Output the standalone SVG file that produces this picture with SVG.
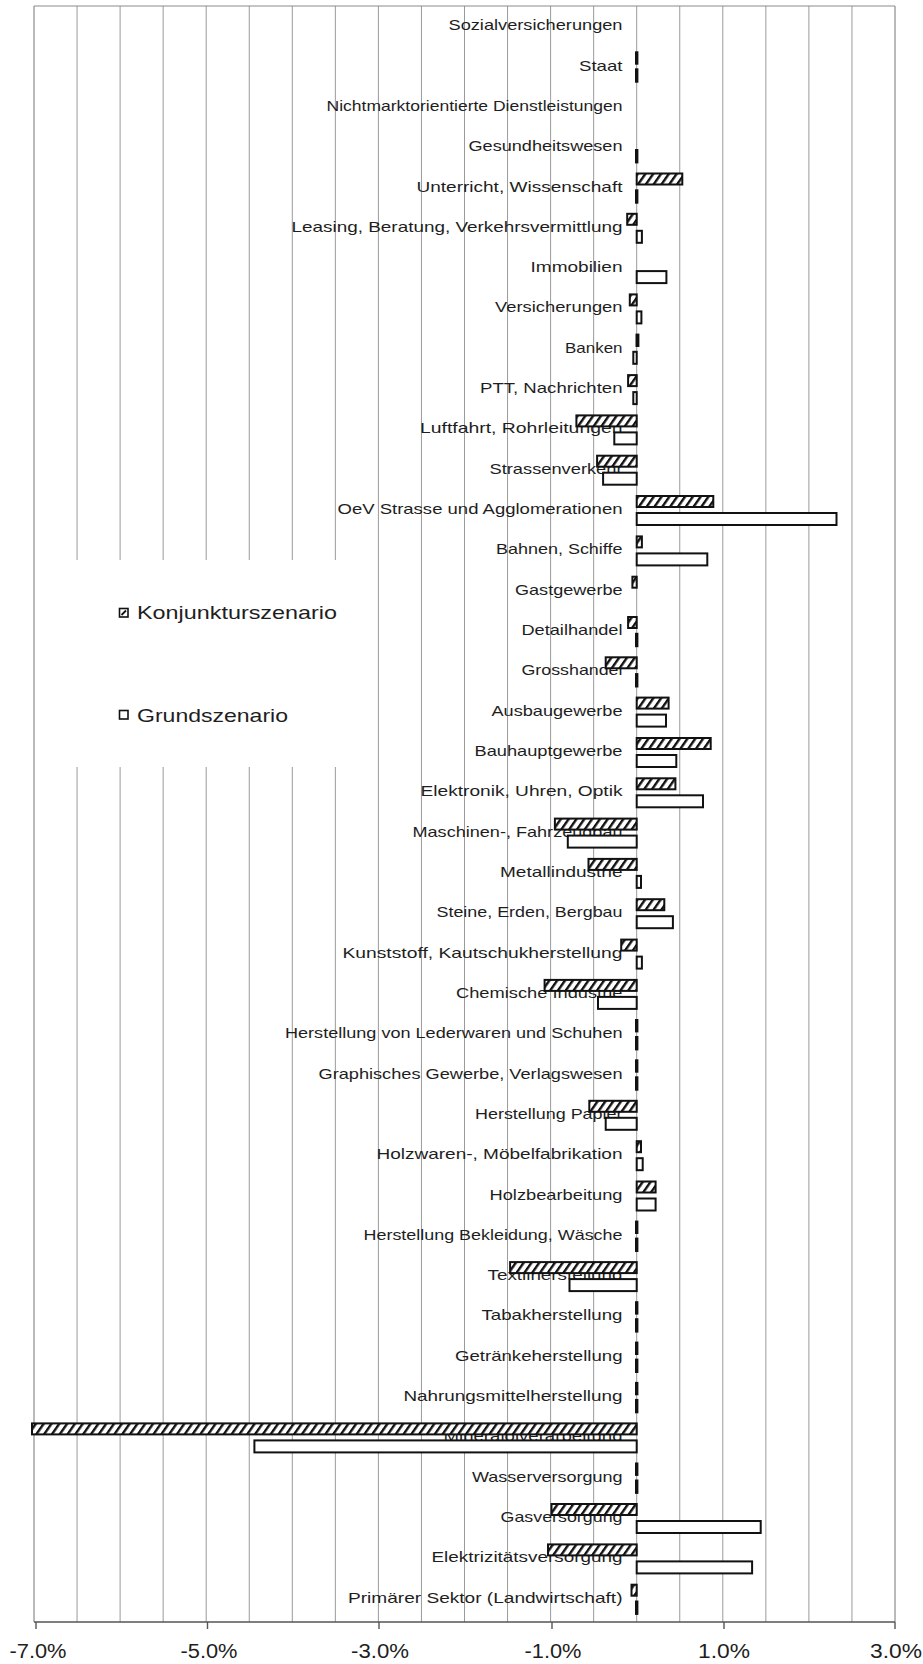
<svg xmlns="http://www.w3.org/2000/svg" width="923" height="1664" viewBox="0 0 923 1664">
  <defs>
    <pattern id="hatch" patternUnits="userSpaceOnUse" width="6.4" height="8" patternTransform="rotate(35)">
      <rect width="6.4" height="8" fill="#fff"/>
      <rect width="2.4" height="8" fill="#111"/>
    </pattern>
    <style>
      .grid { stroke: #9a9a9a; stroke-width: 1; fill: none; }
      .frame { stroke: #8c8c8c; stroke-width: 1.2; fill: none; }
      .axis { stroke: #555; stroke-width: 1.4; fill: none; }
      .lbl { font-family: "Liberation Sans", Arial, sans-serif; font-size: 15px; fill: #1e1e1e; text-anchor: end; }
      .tick { font-family: "Liberation Sans", Arial, sans-serif; font-size: 19.5px; fill: #1e1e1e; text-anchor: middle; }
      .leg { font-family: "Liberation Sans", Arial, sans-serif; font-size: 19px; fill: #1e1e1e; }
      .k { fill: url(#hatch); stroke: #111; stroke-width: 2; }
      .g { fill: #fff; stroke: #111; stroke-width: 2; }
      .z { fill: #111; stroke: #111; stroke-width: 2.4; }
      .icon { fill: #fff; stroke: #111; stroke-width: 1.6; }
    </style>
  </defs>

  <rect width="923" height="1664" fill="#fff"/>

  <!-- vertical gridlines every 0.5 %, from -7 % to +3 % -->
  <g id="grid" class="grid">
    <line x1="77.05" y1="6" x2="77.05" y2="1622"/>
    <line x1="120.1" y1="6" x2="120.1" y2="1622"/>
    <line x1="163.15" y1="6" x2="163.15" y2="1622"/>
    <line x1="206.2" y1="6" x2="206.2" y2="1622"/>
    <line x1="249.25" y1="6" x2="249.25" y2="1622"/>
    <line x1="292.3" y1="6" x2="292.3" y2="1622"/>
    <line x1="335.35" y1="6" x2="335.35" y2="1622"/>
    <line x1="378.4" y1="6" x2="378.4" y2="1622"/>
    <line x1="421.45" y1="6" x2="421.45" y2="1622"/>
    <line x1="464.5" y1="6" x2="464.5" y2="1622"/>
    <line x1="507.55" y1="6" x2="507.55" y2="1622"/>
    <line x1="550.6" y1="6" x2="550.6" y2="1622"/>
    <line x1="593.65" y1="6" x2="593.65" y2="1622"/>
    <line x1="636.7" y1="6" x2="636.7" y2="1622"/>
    <line x1="679.75" y1="6" x2="679.75" y2="1622"/>
    <line x1="722.8" y1="6" x2="722.8" y2="1622"/>
    <line x1="765.85" y1="6" x2="765.85" y2="1622"/>
    <line x1="808.9" y1="6" x2="808.9" y2="1622"/>
    <line x1="851.95" y1="6" x2="851.95" y2="1622"/>
  </g>
  <g id="frame" class="frame">
    <line x1="34" y1="6" x2="895" y2="6"/>
    <line x1="34" y1="6" x2="34" y2="1622"/>
    <line x1="895" y1="6" x2="895" y2="1622"/>
  </g>

  <!-- legend panel blanks the gridlines behind it -->
  <g id="legend">
    <rect x="40" y="560" width="312" height="207" fill="#fff"/>
    <rect class="icon" x="119.5" y="608.5" width="8.5" height="8.5"/>
    <line x1="121.5" y1="615" x2="126" y2="610.5" stroke="#111" stroke-width="1.8"/>
    <text class="leg" x="137" y="619" textLength="200" lengthAdjust="spacingAndGlyphs">Konjunkturszenario</text>
    <rect class="icon" x="119.5" y="710.5" width="8.5" height="8.5"/>
    <text class="leg" x="137" y="722" textLength="151" lengthAdjust="spacingAndGlyphs">Grundszenario</text>
  </g>

  <!-- category labels, right-aligned against the zero line -->
  <g id="labels" class="lbl">
    <text x="622.5" y="30.2" textLength="174" lengthAdjust="spacingAndGlyphs">Sozialversicherungen</text>
    <text x="622.5" y="70.5" textLength="43.5" lengthAdjust="spacingAndGlyphs">Staat</text>
    <text x="622.5" y="110.8" textLength="296" lengthAdjust="spacingAndGlyphs">Nichtmarktorientierte  Dienstleistungen</text>
    <text x="622.5" y="151.2" textLength="154" lengthAdjust="spacingAndGlyphs">Gesundheitswesen</text>
    <text x="622.5" y="191.5" textLength="206" lengthAdjust="spacingAndGlyphs">Unterricht,  Wissenschaft</text>
    <text x="622.5" y="231.8" textLength="331" lengthAdjust="spacingAndGlyphs">Leasing,  Beratung,  Verkehrsvermittlung</text>
    <text x="622.5" y="272.1" textLength="92" lengthAdjust="spacingAndGlyphs">Immobilien</text>
    <text x="622.5" y="312.4" textLength="127.5" lengthAdjust="spacingAndGlyphs">Versicherungen</text>
    <text x="622.5" y="352.8" textLength="57.5" lengthAdjust="spacingAndGlyphs">Banken</text>
    <text x="622.5" y="393.1" textLength="142.5" lengthAdjust="spacingAndGlyphs">PTT,  Nachrichten</text>
    <text x="622.5" y="433.4" textLength="202.5" lengthAdjust="spacingAndGlyphs">Luftfahrt,  Rohrleitungen</text>
    <text x="622.5" y="473.7" textLength="133" lengthAdjust="spacingAndGlyphs">Strassenverkehr</text>
    <text x="622.5" y="514" textLength="285" lengthAdjust="spacingAndGlyphs">OeV  Strasse  und  Agglomerationen</text>
    <text x="622.5" y="554.4" textLength="126.5" lengthAdjust="spacingAndGlyphs">Bahnen,  Schiffe</text>
    <text x="622.5" y="594.7" textLength="107.5" lengthAdjust="spacingAndGlyphs">Gastgewerbe</text>
    <text x="622.5" y="635" textLength="101" lengthAdjust="spacingAndGlyphs">Detailhandel</text>
    <text x="622.5" y="675.3" textLength="101" lengthAdjust="spacingAndGlyphs">Grosshandel</text>
    <text x="622.5" y="715.6" textLength="131" lengthAdjust="spacingAndGlyphs">Ausbaugewerbe</text>
    <text x="622.5" y="756" textLength="148" lengthAdjust="spacingAndGlyphs">Bauhauptgewerbe</text>
    <text x="622.5" y="796.3" textLength="202" lengthAdjust="spacingAndGlyphs">Elektronik,  Uhren,  Optik</text>
    <text x="622.5" y="836.6" textLength="210" lengthAdjust="spacingAndGlyphs">Maschinen-,  Fahrzeugbau</text>
    <text x="622.5" y="876.9" textLength="122.5" lengthAdjust="spacingAndGlyphs">Metallindustrie</text>
    <text x="622.5" y="917.2" textLength="186" lengthAdjust="spacingAndGlyphs">Steine,  Erden,  Bergbau</text>
    <text x="622.5" y="957.6" textLength="280" lengthAdjust="spacingAndGlyphs">Kunststoff,  Kautschukherstellung</text>
    <text x="622.5" y="997.9" textLength="166.5" lengthAdjust="spacingAndGlyphs">Chemische  Industrie</text>
    <text x="622.5" y="1038.2" textLength="337.5" lengthAdjust="spacingAndGlyphs">Herstellung  von  Lederwaren  und  Schuhen</text>
    <text x="622.5" y="1078.5" textLength="304" lengthAdjust="spacingAndGlyphs">Graphisches  Gewerbe,  Verlagswesen</text>
    <text x="622.5" y="1118.8" textLength="147.5" lengthAdjust="spacingAndGlyphs">Herstellung  Papier</text>
    <text x="622.5" y="1159.2" textLength="246" lengthAdjust="spacingAndGlyphs">Holzwaren-,  Möbelfabrikation</text>
    <text x="622.5" y="1199.5" textLength="133" lengthAdjust="spacingAndGlyphs">Holzbearbeitung</text>
    <text x="622.5" y="1239.8" textLength="259" lengthAdjust="spacingAndGlyphs">Herstellung  Bekleidung,  Wäsche</text>
    <text x="622.5" y="1280.1" textLength="135" lengthAdjust="spacingAndGlyphs">Textilherstellung</text>
    <text x="622.5" y="1320.4" textLength="141" lengthAdjust="spacingAndGlyphs">Tabakherstellung</text>
    <text x="622.5" y="1360.8" textLength="167.5" lengthAdjust="spacingAndGlyphs">Getränkeherstellung</text>
    <text x="622.5" y="1401.1" textLength="219" lengthAdjust="spacingAndGlyphs">Nahrungsmittelherstellung</text>
    <text x="622.5" y="1441.4" textLength="179" lengthAdjust="spacingAndGlyphs">Mineralölverarbeitung</text>
    <text x="622.5" y="1481.7" textLength="150.5" lengthAdjust="spacingAndGlyphs">Wasserversorgung</text>
    <text x="622.5" y="1522" textLength="122" lengthAdjust="spacingAndGlyphs">Gasversorgung</text>
    <text x="622.5" y="1562.4" textLength="191" lengthAdjust="spacingAndGlyphs">Elektrizitätsversorgung</text>
    <text x="622.5" y="1602.7" textLength="274.5" lengthAdjust="spacingAndGlyphs">Primärer  Sektor  (Landwirtschaft)</text>
  </g>

  <!-- Konjunkturszenario bars (hatched, upper row of each category) -->
  <g id="bars-konjunktur">
    <rect class="z" x="636.2" y="52.5" width="1" height="11"/>
    <rect class="k" x="636.7" y="173.5" width="45.6" height="11"/>
    <rect class="k" x="627.2" y="213.8" width="9.5" height="11"/>
    <rect class="k" x="629.8" y="294.4" width="6.9" height="11"/>
    <rect class="z" x="636.7" y="334.8" width="1.5" height="11"/>
    <rect class="k" x="628.1" y="375.1" width="8.6" height="11"/>
    <rect class="k" x="576.4" y="415.4" width="60.3" height="11"/>
    <rect class="k" x="597.1" y="455.7" width="39.6" height="11"/>
    <rect class="k" x="636.7" y="496" width="76.6" height="11"/>
    <rect class="k" x="636.7" y="536.4" width="5.2" height="11"/>
    <rect class="k" x="632.4" y="576.7" width="4.3" height="11"/>
    <rect class="k" x="628.1" y="617" width="8.6" height="11"/>
    <rect class="k" x="605.7" y="657.3" width="31" height="11"/>
    <rect class="k" x="636.7" y="697.6" width="31.9" height="11"/>
    <rect class="k" x="636.7" y="738" width="74" height="11"/>
    <rect class="k" x="636.7" y="778.3" width="38.7" height="11"/>
    <rect class="k" x="554.9" y="818.6" width="81.8" height="11"/>
    <rect class="k" x="588.5" y="858.9" width="48.2" height="11"/>
    <rect class="k" x="636.7" y="899.2" width="27.6" height="11"/>
    <rect class="k" x="621.2" y="939.6" width="15.5" height="11"/>
    <rect class="k" x="544.6" y="979.9" width="92.1" height="11"/>
    <rect class="z" x="636.2" y="1020.2" width="1" height="11"/>
    <rect class="z" x="636.2" y="1060.5" width="1" height="11"/>
    <rect class="k" x="589.3" y="1100.8" width="47.4" height="11"/>
    <rect class="k" x="636.7" y="1141.2" width="4.3" height="11"/>
    <rect class="k" x="636.7" y="1181.5" width="18.9" height="11"/>
    <rect class="z" x="636.2" y="1221.8" width="1" height="11"/>
    <rect class="k" x="510.1" y="1262.1" width="126.6" height="11"/>
    <rect class="z" x="636.2" y="1302.4" width="1" height="11"/>
    <rect class="z" x="636.2" y="1342.8" width="1" height="11"/>
    <rect class="z" x="636.2" y="1383.1" width="1" height="11"/>
    <rect class="k" x="32" y="1423.4" width="604.7" height="11"/>
    <rect class="z" x="636.2" y="1463.7" width="1" height="11"/>
    <rect class="k" x="551.5" y="1504" width="85.2" height="11"/>
    <rect class="k" x="548" y="1544.4" width="88.7" height="11"/>
    <rect class="k" x="631.5" y="1584.7" width="5.2" height="11"/>
  </g>

  <!-- Grundszenario bars (open, lower row of each category) -->
  <g id="bars-grund">
    <rect class="z" x="636.2" y="69.5" width="1" height="12"/>
    <rect class="z" x="636.2" y="150.2" width="1" height="12"/>
    <rect class="z" x="636.2" y="190.5" width="1" height="12"/>
    <rect class="g" x="636.7" y="230.8" width="5.2" height="12"/>
    <rect class="g" x="636.7" y="271.1" width="29.7" height="12"/>
    <rect class="g" x="636.7" y="311.4" width="4.7" height="12"/>
    <rect class="g" x="633.3" y="351.8" width="3.4" height="12"/>
    <rect class="g" x="633.3" y="392.1" width="3.4" height="12"/>
    <rect class="g" x="614.3" y="432.4" width="22.4" height="12"/>
    <rect class="g" x="603.1" y="472.7" width="33.6" height="12"/>
    <rect class="g" x="636.7" y="513" width="199.8" height="12"/>
    <rect class="g" x="636.7" y="553.4" width="70.6" height="12"/>
    <rect class="z" x="636.2" y="634" width="1" height="12"/>
    <rect class="z" x="636.2" y="674.3" width="1" height="12"/>
    <rect class="g" x="636.7" y="714.6" width="29.3" height="12"/>
    <rect class="g" x="636.7" y="755" width="39.6" height="12"/>
    <rect class="g" x="636.7" y="795.3" width="66.3" height="12"/>
    <rect class="g" x="567.8" y="835.6" width="68.9" height="12"/>
    <rect class="g" x="636.7" y="875.9" width="4.3" height="12"/>
    <rect class="g" x="636.7" y="916.2" width="36.2" height="12"/>
    <rect class="g" x="636.7" y="956.6" width="5.2" height="12"/>
    <rect class="g" x="598" y="996.9" width="38.7" height="12"/>
    <rect class="z" x="636.2" y="1037.2" width="1" height="12"/>
    <rect class="z" x="636.2" y="1077.5" width="1" height="12"/>
    <rect class="g" x="605.7" y="1117.8" width="31" height="12"/>
    <rect class="g" x="636.7" y="1158.2" width="6" height="12"/>
    <rect class="g" x="636.7" y="1198.5" width="18.9" height="12"/>
    <rect class="z" x="636.2" y="1238.8" width="1" height="12"/>
    <rect class="g" x="569.5" y="1279.1" width="67.2" height="12"/>
    <rect class="z" x="636.2" y="1319.4" width="1" height="12"/>
    <rect class="z" x="636.2" y="1359.8" width="1" height="12"/>
    <rect class="z" x="636.2" y="1400.1" width="1" height="12"/>
    <rect class="g" x="254.4" y="1440.4" width="382.3" height="12"/>
    <rect class="z" x="636.2" y="1480.7" width="1" height="12"/>
    <rect class="g" x="636.7" y="1521" width="124" height="12"/>
    <rect class="g" x="636.7" y="1561.4" width="115.4" height="12"/>
    <rect class="z" x="636.2" y="1601.7" width="1" height="12"/>
  </g>

  <!-- value axis -->
  <g id="axis">
    <line class="axis" x1="34" y1="1622" x2="895" y2="1622"/>
    <g class="axis">
      <line x1="36" y1="1622" x2="36" y2="1629"/>
      <line x1="207.5" y1="1622" x2="207.5" y2="1629"/>
      <line x1="379" y1="1622" x2="379" y2="1629"/>
      <line x1="552" y1="1622" x2="552" y2="1629"/>
      <line x1="724" y1="1622" x2="724" y2="1629"/>
      <line x1="895" y1="1622" x2="895" y2="1629"/>
    </g>
    <g class="tick">
      <text x="38" y="1658" textLength="57" lengthAdjust="spacingAndGlyphs">-7.0%</text>
      <text x="209" y="1658" textLength="57" lengthAdjust="spacingAndGlyphs">-5.0%</text>
      <text x="380" y="1658" textLength="58" lengthAdjust="spacingAndGlyphs">-3.0%</text>
      <text x="553" y="1658" textLength="57" lengthAdjust="spacingAndGlyphs">-1.0%</text>
      <text x="724" y="1658" textLength="52" lengthAdjust="spacingAndGlyphs">1.0%</text>
      <text x="896" y="1658" textLength="52" lengthAdjust="spacingAndGlyphs">3.0%</text>
    </g>
  </g>
</svg>
